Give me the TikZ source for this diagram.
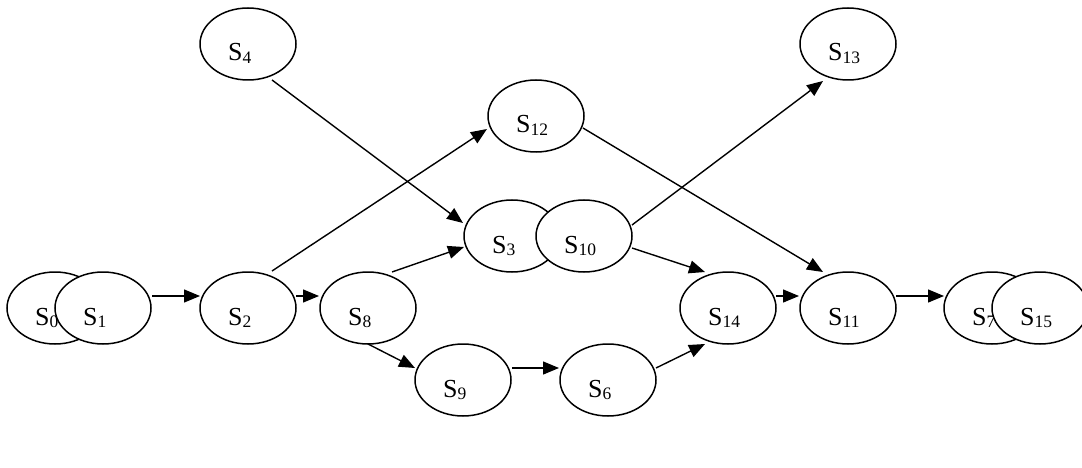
\documentclass[tikz,border=0pt]{standalone}
\usepackage{fontspec}
\setmainfont{Liberation Serif}
\usetikzlibrary{arrows.meta,shapes.geometric}
\newcommand{\stlabel}[1]{\fontsize{26}{26}\selectfont S\raisebox{-2.5pt}{\fontsize{17.5}{17.5}\selectfont #1}}
\newcommand{\placestate}[3]{%
  \node[state] (s#1) at (#2,#3) {};
  \node[lbl] (t#1) at ([shift={(-20,17)}]s#1.center) {\stlabel{#1}};}
\begin{document}
\begin{tikzpicture}[x=1pt,y=-1pt,
  state/.style={draw, ellipse, fill=white, line width=1.5pt, minimum width=96pt, minimum height=72pt, inner sep=0pt},
  lbl/.style={anchor=base west, inner sep=0pt},
  arr/.style={-{Triangle[length=16pt,width=13pt]}, line width=1.4pt}]
\useasboundingbox (0,0) rectangle (1082,468);
\clip (0,0) rectangle (1082,468);
\placestate{0}{55}{308}
\placestate{1}{103}{308}
\placestate{2}{248}{308}
\placestate{4}{248}{44}
\placestate{8}{368}{308}
\placestate{9}{463}{380}
\placestate{6}{608}{380}
\placestate{12}{536}{116}
\placestate{3}{512}{236}
\placestate{10}{584}{236}
\placestate{13}{848}{44}
\placestate{14}{728}{308}
\placestate{11}{848}{308}
\placestate{7}{992}{308}
\placestate{15}{1040}{308}
\draw[arr] ([shift={(49,-12)}]s1.center) -- ([shift={(-48,-12)}]s2.center);
\draw[arr] ([shift={(48,-12)}]s2.center) -- ([shift={(-49,-12)}]s8.center);
\draw[arr] ([shift={(24,-37)}]s2.center) -- ([shift={(-49,13)}]s12.center);
\draw[arr] ([shift={(24,36)}]s4.center) -- ([shift={(-49,-13)}]s3.center);
\draw[arr] ([shift={(24,-36)}]s8.center) -- ([shift={(-48,11)}]s3.center);
\draw[arr] ([shift={(0,36)}]s8.center) -- ([shift={(-48,-12)}]s9.center);
\draw[arr] ([shift={(49,-12)}]s9.center) -- ([shift={(-49,-12)}]s6.center);
\draw[arr] ([shift={(48,-12)}]s6.center) -- ([shift={(-23,36)}]s14.center);
\draw[arr] ([shift={(48,12)}]s10.center) -- ([shift={(-23,-36)}]s14.center);
\draw[arr] ([shift={(48,-11)}]s10.center) -- ([shift={(-25,37)}]s13.center);
\draw[arr] ([shift={(47,12)}]s12.center) -- ([shift={(-25,-36)}]s11.center);
\draw[arr] ([shift={(48,-12)}]s14.center) -- ([shift={(-49,-12)}]s11.center);
\draw[arr] ([shift={(48,-12)}]s11.center) -- ([shift={(-48,-12)}]s7.center);
\end{tikzpicture}
\end{document}
